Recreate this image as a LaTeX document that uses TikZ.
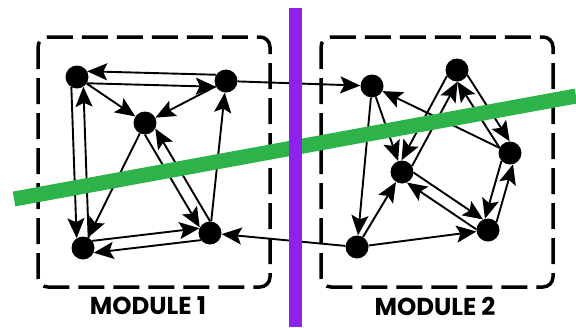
\documentclass[tikz,border=0pt]{standalone}
\usepackage{fontspec}
\usepackage{tikz}
\usetikzlibrary{arrows.meta,calc}
\usepackage{xcolor}
\newfontfamily\modfont{Poppins}
\definecolor{cutgreen}{HTML}{2DB34A}
\definecolor{cutpurple}{HTML}{8C22EC}
\tikzset{
  vertex/.style={circle, fill=black, inner sep=0pt, minimum size=23pt},
  arr/.style={-{Stealth[length=20pt, width=17pt, inset=4pt]}, line width=1.9pt, draw=black},
  pairarr/.style={arr, shorten <=10pt, shorten >=10pt},
  modulebox/.style={draw=black, line width=3.5pt, rounded corners=10pt, dash pattern=on 26pt off 9pt, dash phase=4pt},
  modlabel/.style={font=\modfont\bfseries\fontsize{24.5}{28}\selectfont},
  greencut/.style={draw=cutgreen, line width=15pt},
  purplecut/.style={draw=cutpurple, line width=13pt}
}
% a->b and b->a side by side, #3 > 0 puts each on its left
\newcommand\twoway[3]{%
  \draw[pairarr] ($(#1)!#3!90:(#2)$) -- ($(#2)!#3!-90:(#1)$);
  \draw[pairarr] ($(#2)!#3!90:(#1)$) -- ($(#1)!#3!-90:(#2)$);
}

\begin{document}
\begin{tikzpicture}[x=1pt, y=-1pt]
  \useasboundingbox (0,0) rectangle (576,327);
  \draw[modulebox] (38,37) rectangle (270,287);
  \draw[modulebox] (321,37) rectangle (553,287);
  \node[modlabel] (lab1) at (148,306) {MODULE 1};
  \node[modlabel] (lab2) at (435,306) {MODULE 2};

  % module 1
  \node[vertex] (tl1) at (77,77) {};
  \node[vertex] (tr1) at (226,81) {};
  \node[vertex] (c1) at (145,123) {};
  \node[vertex] (bl1) at (83,248) {};
  \node[vertex] (br1) at (210,233) {};
  % module 2
  \node[vertex] (tl2) at (372,86) {};
  \node[vertex] (t2) at (457,70) {};
  \node[vertex] (c2) at (402,172) {};
  \node[vertex] (r2) at (510,153) {};
  \node[vertex] (bl2) at (357,247) {};
  \node[vertex] (br2) at (488,230) {};

  \twoway{tl1}{tr1}{-6pt}
  \twoway{tl1}{bl1}{-6pt}
  \twoway{bl1}{br1}{6pt}
  \twoway{c1}{br1}{-6pt}
  \draw[arr] (tl1) -- (c1);
  \draw[arr] (tr1) -- (c1);
  \draw[arr] (c1) -- (bl1);
  \draw[arr] (br1) -- (tr1);

  \twoway{t2}{c2}{-6pt}
  \twoway{t2}{r2}{6pt}
  \twoway{c2}{br2}{6pt}
  \twoway{r2}{br2}{-6pt}
  \draw[arr] (tl2) -- (c2);
  \draw[arr] (tl2) -- (bl2);
  \draw[arr] (r2) -- (tl2);
  \draw[arr] (bl2) -- (c2);
  \draw[arr] (bl2) -- (br2);

  % between the modules
  \draw[arr] (tr1) -- (tl2);
  \draw[arr] (bl2) -- (br1);

  \draw[greencut] (14,199) -- (576,96);
  \draw[purplecut] (295,8) -- (295,327);
\end{tikzpicture}
\end{document}
